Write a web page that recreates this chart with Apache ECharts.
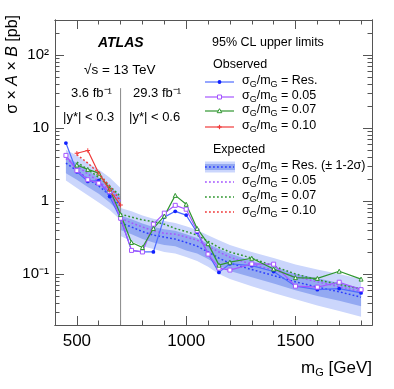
<!DOCTYPE html>
<html><head><meta charset="utf-8">
<script src="https://cdn.jsdelivr.net/npm/echarts@6/dist/echarts.min.js"></script>
<style>html,body{margin:0;padding:0;background:#fff}#c{width:394px;height:389px}</style>
</head><body><div id="c"></div>
<script>
// ---- data ----
const massObs = [450,500,550,600,650,700,750,800,850,900,950,1000,1050,1100,1150,1200,1300,1400,1500,1600,1700,1800];
const obsRes  = [6.2,2.5,1.85,1.9,1.15,0.57,0.21,0.20,0.20,0.60,0.72,0.64,0.37,0.19,0.105,0.138,0.13,0.108,0.068,0.061,0.063,0.055];
const obs005  = [4.2,2.6,1.95,1.75,1.35,0.58,0.21,0.20,0.48,0.68,0.87,0.77,0.39,0.187,0.12,0.113,0.137,0.136,0.068,0.066,0.077,0.061];
const massObsG = [500,550,600,650,700,750,800,850,900,950,1000,1050,1100,1150,1200,1300,1400,1500,1600,1700,1800];
const obs007  = [3.1,2.7,2.4,1.45,0.65,0.27,0.23,0.42,0.62,1.19,0.90,0.42,0.26,0.132,0.145,0.164,0.117,0.089,0.087,0.109,0.085];
const massObsR = [500,550,600,650,700];
const obs010  = [4.5,4.9,2.4,1.4,0.88];

const massL = [450,500,550,600,650,700];
const massR = [700,750,800,850,900,950,1000,1050,1100,1150,1200,1300,1400,1500,1600,1700,1800];
const expResL = [3.3,2.6,2.0,1.6,1.2,0.85];
const expResR = [0.50,0.44,0.38,0.34,0.32,0.30,0.27,0.24,0.20,0.165,0.14,0.115,0.095,0.078,0.066,0.057,0.048];
const exp005L = [3.8,3.0,2.35,1.85,1.4,1.0];
const exp005R = [0.58,0.50,0.44,0.39,0.36,0.35,0.32,0.29,0.24,0.20,0.17,0.135,0.112,0.092,0.078,0.067,0.057];
const massL7 = [500,550,600,650,700];
const exp007L = [3.4,2.7,2.1,1.6,1.15];
const exp007R = [0.66,0.60,0.55,0.52,0.48,0.42,0.38,0.34,0.28,0.23,0.20,0.165,0.128,0.10,0.083,0.072,0.062];
const exp010L = [4.3,3.3,2.4,1.6,1.0];

const bandLlo2 = [1.9,1.5,1.2,0.95,0.75,0.55];
const bandLlo1 = [2.4,1.95,1.55,1.25,0.95,0.68];
const bandLhi1 = [4.0,3.3,2.6,2.1,1.6,1.15];
const bandLhi2 = [5.0,4.2,3.3,2.7,2.1,1.5];
const bandRlo2 = [0.33,0.28,0.24,0.22,0.20,0.19,0.17,0.15,0.125,0.10,0.085,0.068,0.055,0.045,0.037,0.031,0.026];
const bandRlo1 = [0.40,0.35,0.30,0.27,0.25,0.24,0.21,0.19,0.16,0.13,0.11,0.09,0.074,0.06,0.05,0.043,0.036];
const bandRhi1 = [0.63,0.56,0.49,0.44,0.41,0.39,0.35,0.31,0.26,0.22,0.19,0.15,0.125,0.10,0.087,0.075,0.064];
const bandRhi2 = [0.80,0.72,0.63,0.57,0.53,0.50,0.45,0.40,0.34,0.29,0.25,0.20,0.165,0.135,0.115,0.10,0.085];

const xMajor = [500,1000,1500];
const xMinor = [400,600,700,800,900,1100,1200,1300,1400,1600,1700,1800];
const yMajor = [0.1,1,10,100];
const yMinor = [0.03,0.04,0.05,0.06,0.07,0.08,0.09,0.2,0.3,0.4,0.5,0.6,0.7,0.8,0.9,2,3,4,5,6,7,8,9,20,30,40,50,60,70,80,90,200,300];
const divider = [[700,0.02],[700,35]];

// ---- styling ----
const FONT = 'Liberation Sans';
const AX = '#555';
const cLight = '#cbd6fc', cDark = '#93a9f2';
const zip = (xs, ys) => xs.map((x,i)=>[x, ys[i]]);

function xAx(pos, ticks, len, labels) {
  return {type:'value', min:400, max:1850, position:pos,
    axisLine:{show:true, onZero:false, lineStyle:{color:AX, width:1}},
    axisTick:{show:true, inside:true, length:len, customValues:ticks, lineStyle:{color:AX}},
    axisLabel: labels ? {show:true, customValues:xMajor, fontFamily:FONT, fontSize:17, color:'#000', margin:8, formatter: v => String(Math.round(v))} : {show:false},
    splitLine:{show:false}};
}
function yAx(pos, ticks, len, labels) {
  return {type:'log', logBase:10, min:0.02, max:300, position:pos,
    axisLine:{show:true, onZero:false, lineStyle:{color:AX, width:1}},
    axisTick:{show:true, inside:true, length:len, customValues:ticks, lineStyle:{color:AX}},
    axisLabel: labels ? {show:true, customValues:yMajor, fontFamily:FONT, fontSize:15, color:'#000', margin:6,
      formatter: v => { const e = Math.round(Math.log10(v)); return e===2?'10²':e===1?'10':e===0?'1':'10⁻¹'; }} : {show:false},
    splitLine:{show:false}, minorTick:{show:false}};
}

function lineSeries(data, color, width, dash, symbol, symSize, symColor, filled) {
  return {type:'line', data, xAxisIndex:0, yAxisIndex:0, silent:true, animation:false, z:3,
    lineStyle:{color, width, type:dash||'solid'},
    symbol: symbol||'none', symbolSize: symSize||0, showSymbol: !!symbol,
    itemStyle:{color: filled ? symColor : '#fff', borderColor: symColor, borderWidth: filled?0:1}};
}

const bandSeries = {
  type:'custom', xAxisIndex:0, yAxisIndex:0, silent:true, animation:false, z:1, clip:true,
  data:[[450,1],[700,1]],
  renderItem:(params, api) => {
    const seg = params.dataIndex === 0
      ? {x:massL, lo2:bandLlo2, lo1:bandLlo1, hi1:bandLhi1, hi2:bandLhi2}
      : {x:massR, lo2:bandRlo2, lo1:bandRlo1, hi1:bandRhi1, hi2:bandRhi2};
    const poly = (lo, hi) => {
      const up = seg.x.map((x,i)=>api.coord([x, hi[i]]));
      const dn = seg.x.map((x,i)=>api.coord([x, lo[i]])).reverse();
      return up.concat(dn);
    };
    return {type:'group', children:[
      {type:'polygon', shape:{points:poly(seg.lo2, seg.hi2)}, style:{fill:cLight}},
      {type:'polygon', shape:{points:poly(seg.lo1, seg.hi1)}, style:{fill:cDark}}
    ]};
  }
};

const dot = [1.8,2.2];
const cB='#2b3dff', cP='#a455ff', cG='#2f962f', cR='#f03a3a';
const cBl='#4d6bff';
const plus = 'path://M4,0H6V4H10V6H6V10H4V6H0V4H4Z';

const series = [
  bandSeries,
  {type:'line', data:divider, silent:true, animation:false, symbol:'none', z:2, lineStyle:{color:'#888', width:1}},
  lineSeries(zip(massL, expResL), cB, 1.5, dot),
  lineSeries(zip(massR, expResR), cB, 1.5, dot),
  lineSeries(zip(massL, exp005L), cP, 1.5, dot),
  lineSeries(zip(massR, exp005R), cP, 1.5, dot),
  lineSeries(zip(massL7, exp007L), cG, 1.5, dot),
  lineSeries(zip(massR, exp007R), cG, 1.5, dot),
  lineSeries(zip(massL7, exp010L), cR, 1.5, dot),
  lineSeries(zip(massObs, obsRes), cBl, 1.2, 'solid', 'circle', 3.8, '#1020ff', true),
  lineSeries(zip(massObs, obs005), cP, 1.2, 'solid', 'rect', 4, cP, false),
  lineSeries(zip(massObsG, obs007), cG, 1.2, 'solid', 'triangle', 4, cG, false),
  lineSeries(zip(massObsR, obs010), cR, 1.2, 'solid', plus, 4.5, cR, true),
];

// ---- legend & text graphics ----
const sub = {fontSize:9, fontFamily:FONT, padding:[7,0,0,0], color:'#000'};
const rich = {sub, n:{fontSize:12.5, fontFamily:FONT, color:'#000'}};
function sg(tail){ return '{n|σ}{sub|G}{n|/m}{sub|G}{n| = '+tail+'}'; }
const g = [];
function txt(x,y,text,opt){ g.push(Object.assign({type:'text', x, y, silent:true, style:Object.assign({text, fontFamily:FONT, fontSize:12.5, fill:'#000', verticalAlign:'middle'}, opt||{})})); }
txt(98, 43, 'ATLAS', {fontSize:14, fontWeight:'bold', fontStyle:'italic'});
txt(84, 70, '√s = 13 TeV', {fontSize:13.5});
txt(71, 93, '3.6 fb⁻¹', {fontSize:13});
txt(133, 93, '29.3 fb⁻¹', {fontSize:13});
txt(63, 117, '|y*| < 0.3', {fontSize:13});
txt(129, 117, '|y*| < 0.6', {fontSize:13});
txt(212, 43, '95% CL upper limits');
txt(213, 65, 'Observed');
txt(213, 150, 'Expected');
const obsRows = [[82,cBl,'circle','#1020ff',true,'Res.'],[97,cP,'rect',cP,false,'0.05'],[111,cG,'triangle',cG,false,'0.07'],[127,cR,'plus',cR,true,'0.10']];
obsRows.forEach(r=>{
  g.push({type:'line', silent:true, shape:{x1:205,y1:r[0],x2:234,y2:r[0]}, style:{stroke:r[1], lineWidth:1.2}});
  if (r[2]==='circle') g.push({type:'circle', silent:true, shape:{cx:219.5, cy:r[0], r:1.9}, style:{fill:r[3]}});
  if (r[2]==='rect') g.push({type:'rect', silent:true, shape:{x:217.5, y:r[0]-2, width:4, height:4}, style:{fill:'#fff', stroke:r[3], lineWidth:1}});
  if (r[2]==='triangle') g.push({type:'polygon', silent:true, shape:{points:[[219.5,r[0]-2.3],[221.8,r[0]+1.7],[217.2,r[0]+1.7]]}, style:{fill:'#fff', stroke:r[3], lineWidth:1}});
  if (r[2]==='plus') { g.push({type:'line', silent:true, shape:{x1:217.3,y1:r[0],x2:221.7,y2:r[0]}, style:{stroke:r[3], lineWidth:1.2}}); g.push({type:'line', silent:true, shape:{x1:219.5,y1:r[0]-2.2,x2:219.5,y2:r[0]+2.2}, style:{stroke:r[3], lineWidth:1.2}}); }
  g.push({type:'text', x:242, y:r[0]-1, silent:true, style:{text:sg(r[5]), rich, verticalAlign:'middle'}});
});
g.push({type:'rect', silent:true, shape:{x:205,y:161.5,width:30,height:11}, style:{fill:cLight}});
g.push({type:'rect', silent:true, shape:{x:205,y:164,width:30,height:6}, style:{fill:cDark}});
const expRows = [[167,cB,'Res. (± 1-2σ)'],[182,cP,'0.05'],[197,cG,'0.07'],[212,cR,'0.10']];
expRows.forEach(r=>{
  g.push({type:'line', silent:true, shape:{x1:205,y1:r[0],x2:234,y2:r[0]}, style:{stroke:r[1], lineWidth:1.5, lineDash:dot}});
  g.push({type:'text', x:242, y:r[0]-1, silent:true, style:{text:sg(r[2]), rich, verticalAlign:'middle'}});
});
// axis titles
g.push({type:'text', x:372, y:368, silent:true, style:{text:'{a|m}{s|G}{a| [GeV]}', align:'right', verticalAlign:'middle',
  rich:{a:{fontSize:17, fontFamily:FONT, color:'#000'}, s:{fontSize:11, fontFamily:FONT, color:'#000', padding:[9,0,0,0]}}}});
g.push({type:'text', x:13, y:15, rotation:Math.PI/2, silent:true, style:{text:'{a|σ × }{i|A}{a| × }{i|B}{a| [pb]}', align:'right', verticalAlign:'middle',
  rich:{a:{fontSize:16, fontFamily:FONT, color:'#000'}, i:{fontSize:16, fontFamily:FONT, fontStyle:'italic', color:'#000'}}}});

const chart = echarts.init(document.getElementById('c'), null, {renderer:'canvas'});
chart.setOption({
  animation:false,
  grid:{left:55, right:22, top:20, bottom:64, containLabel:false},
  xAxis:[xAx('bottom', xMinor, 4.5, true), xAx('bottom', xMajor, 9, false), xAx('top', xMinor, 4.5, false), xAx('top', xMajor, 9, false)],
  yAxis:[yAx('left', yMinor, 4.5, true), yAx('left', yMajor, 9, false), yAx('right', yMinor, 4.5, false), yAx('right', yMajor, 9, false)],
  series,
  graphic:g
});
</script></body></html>
